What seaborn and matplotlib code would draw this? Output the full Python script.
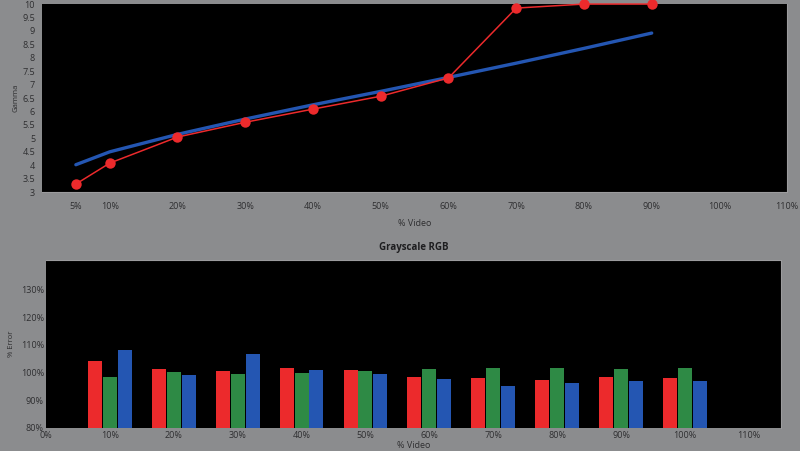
import matplotlib
matplotlib.use("Agg")
import matplotlib.pyplot as plt
import seaborn as sns
import pandas as pd
from matplotlib.ticker import FuncFormatter

# ---- data: gamma panel ----
gamma_levels = [5, 10, 20, 30, 40, 50, 60, 70, 80, 90]
gamma_measured = [3.30, 4.08, 5.05, 5.60, 6.09, 6.57, 7.25, 9.85, 10.0, 10.0]
gamma_target = [4.02, 4.50, 5.15, 5.72, 6.25, 6.75, 7.27, 7.80, 8.35, 8.92]
gamma_xticks = [5, 10, 20, 30, 40, 50, 60, 70, 80, 90, 100, 110]
gamma_yticks = [3, 3.5, 4, 4.5, 5, 5.5, 6, 6.5, 7, 7.5, 8, 8.5, 9, 9.5, 10]

# ---- data: grayscale RGB panel ----
rgb_levels = [10, 20, 30, 40, 50, 60, 70, 80, 90, 100]
red_vals = [104.2, 101.3, 100.5, 101.8, 101.0, 98.3, 97.9, 97.2, 98.4, 98.2]
green_vals = [98.4, 100.3, 99.6, 99.9, 100.4, 101.2, 101.7, 101.7, 101.3, 101.6]
blue_vals = [108.2, 99.0, 106.6, 101.1, 99.5, 97.5, 95.1, 96.3, 97.1, 96.8]
rgb_xticks = [0, 10, 20, 30, 40, 50, 60, 70, 80, 90, 100, 110]
rgb_yticks = [80, 90, 100, 110, 120, 130]

BG = "#8b8c8e"
TXT = "#2e2e30"
RED = "#ec2a2c"
GREEN = "#2e8a45"
BLUE = "#2456b2"

sns.set_theme(style="dark")
plt.rcParams["font.family"] = ["Open Sans", "DejaVu Sans"]

fig = plt.figure(figsize=(8, 4.51), dpi=100, facecolor=BG)

# ---------- top: gamma ----------
ax1 = fig.add_axes([0.0525, 0.574, 0.984 - 0.0525, 0.991 - 0.574])
ax1.set_facecolor("black")
df_g = pd.DataFrame({"level": gamma_levels, "measured": gamma_measured,
                     "target": gamma_target})
sns.lineplot(data=df_g, x="level", y="target", ax=ax1, color=BLUE,
             linewidth=2.4, zorder=2)
sns.lineplot(data=df_g, x="level", y="measured", ax=ax1, color=RED,
             linewidth=1.1, marker="o", markersize=7.5, markeredgewidth=0,
             zorder=3, clip_on=False)
ax1.set_xlim(0, 110)
ax1.set_ylim(3, 10)
ax1.set_xticks(gamma_xticks)
ax1.set_xticklabels([f"{v}%" for v in gamma_xticks])
ax1.set_yticks(gamma_yticks)
ax1.yaxis.set_major_formatter(FuncFormatter(lambda v, p: f"{v:g}"))
ax1.tick_params(axis="x", length=0, pad=7, labelsize=6.5, colors=TXT)
ax1.tick_params(axis="y", length=0, pad=5, labelsize=6.5, colors=TXT)
ax1.set_xlabel("% Video", fontsize=6.5, color=TXT, labelpad=6)
ax1.set_ylabel("Gamma", fontsize=5.5, color=TXT, labelpad=2)
ax1.grid(False)
for s in ax1.spines.values():
    s.set_color("#9c9c9e")
    s.set_linewidth(0.8)
ax1.spines["left"].set_visible(False)
ax1.spines["top"].set_visible(False)

# ---------- bottom: grayscale RGB ----------
ax2 = fig.add_axes([0.0575, 0.051, 0.976 - 0.0575, 0.4235 - 0.051])
ax2.set_facecolor("black")
df_rgb = pd.DataFrame({
    "level": rgb_levels * 3,
    "value": red_vals + green_vals + blue_vals,
    "channel": ["R"] * len(rgb_levels) + ["G"] * len(rgb_levels) + ["B"] * len(rgb_levels),
})
sns.barplot(data=df_rgb, x="level", y="value", hue="channel",
            hue_order=["R", "G", "B"],
            palette={"R": RED, "G": GREEN, "B": BLUE},
            native_scale=True, width=0.7, gap=0.06, legend=False,
            saturation=1, linewidth=0, edgecolor="none", ax=ax2, zorder=2)
ax2.set_xlim(0, 115)
ax2.set_ylim(80, 140.6)
ax2.set_xticks(rgb_xticks)
ax2.set_xticklabels([f"{v}%" for v in rgb_xticks])
ax2.set_yticks(rgb_yticks)
ax2.set_yticklabels([f"{v}%" for v in rgb_yticks])
ax2.tick_params(axis="x", length=0, pad=2, labelsize=6.5, colors=TXT)
ax2.tick_params(axis="y", length=0, pad=1.5, labelsize=6.5, colors=TXT)
ax2.set_xlabel("% Video", fontsize=6.5, color=TXT, labelpad=1)
ax2.set_ylabel("% Error", fontsize=5.5, color=TXT, labelpad=4)
ax2.set_title("Grayscale RGB", fontsize=7, fontweight="bold", color="#1e1e20", pad=7)
ax2.grid(False)
for s in ax2.spines.values():
    s.set_color("#9c9c9e")
    s.set_linewidth(0.8)
ax2.spines["left"].set_visible(False)
ax2.spines["bottom"].set_visible(False)

fig.savefig("out.png", dpi=100, facecolor=BG)
